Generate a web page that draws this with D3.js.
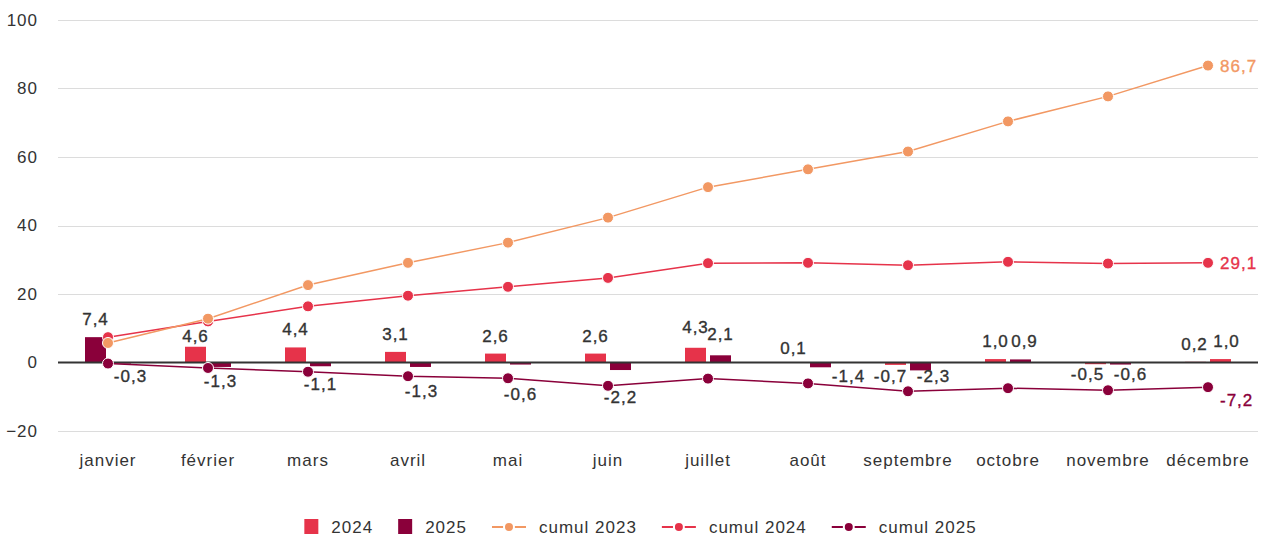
<!DOCTYPE html>
<html>
<head>
<meta charset="utf-8">
<script src="https://d3js.org/d3.v7.min.js"></script>
<style>
  body { margin: 0; background: #fff; }
  svg text { font-family: "Liberation Sans", Arial, Helvetica, sans-serif; letter-spacing: 1px; }
  .dlabel { stroke-width: 0.35px; }
</style>
</head>
<body>
<svg id="chart" width="1263" height="538"></svg>
<script>
// data
const months = ["janvier", "février", "mars", "avril", "mai", "juin", "juillet", "août", "septembre", "octobre", "novembre", "décembre"];
const values2024 = [7.4, 4.6, 4.4, 3.1, 2.6, 2.6, 4.3, 0.1, -0.7, 1.0, -0.5, 0.2];
const values2025 = [-0.3, -1.3, -1.1, -1.3, -0.6, -2.2, 2.1, -1.4, -2.3, 0.9, -0.6, 1.0];
const cumul2023 = [5.7, 12.8, 22.6, 29.1, 35.0, 42.3, 51.2, 56.4, 61.6, 70.4, 77.7, 86.7];
const cumul2024 = [7.4, 12.0, 16.4, 19.5, 22.1, 24.7, 29.0, 29.1, 28.4, 29.4, 28.9, 29.1];
const cumul2025 = [-0.3, -1.6, -2.7, -4.0, -4.6, -6.8, -4.7, -6.1, -8.4, -7.5, -8.1, -7.2];
const yTicks = [-20, 0, 20, 40, 60, 80, 100];

// colours
const RED = "#e6334a", DARK = "#8a003a", ORANGE = "#f29863";

// bars: one point in each series is drawn in the other colour in the original
const barSeries = [
  { key: "2024", values: values2024, color: RED, override: { 0: DARK } },
  { key: "2025", values: values2025, color: DARK, override: { 11: RED } }
];
const lineSeries = [
  { key: "cumul 2025", values: cumul2025, color: DARK },
  { key: "cumul 2024", values: cumul2024, color: RED },
  { key: "cumul 2023", values: cumul2023, color: ORANGE }
];

// small label nudges (dx, dy) to mimic the original label placement
const nudge = {
  "2024": [[0,0],[0,7],[0,0],[0,0],[0,0],[0,0],[0,-3],[-2,4],[-5,-3],[0,0],[-8,-4],[-1,0]],
  "2025": [[10,-2],[0,0],[0,4],[1,10],[0,15],[0,13],[0,-3],[28,-5],[13,-8],[4,0],[10,-5],[6,0]]
};
const endNudge = { "cumul 2023": 0, "cumul 2024": 0, "cumul 2025": 13 };

const svg = d3.select("#chart");
const plotLeft = 58, plotRight = 1258, plotTop = 20, plotBottom = 431;
const FS = 17;

const x = d3.scaleBand().domain(months).range([plotLeft, plotRight]);
const xs = d3.scaleBand().domain(["2024", "2025"]).range([27, 73]).paddingInner(0.16);
const y = d3.scaleLinear().domain([-20, 100]).range([plotBottom, plotTop]);
const fmt = v => d3.format(".1f")(v).replace(".", ",").replace("−", "-");

// grid
svg.append("g").selectAll("line").data(yTicks.filter(t => t !== 0))
  .join("line")
  .attr("x1", plotLeft).attr("x2", plotRight)
  .attr("y1", d => Math.round(y(d)) + 0.5).attr("y2", d => Math.round(y(d)) + 0.5)
  .attr("stroke", "#dcdcdc").attr("stroke-width", 1);

// y axis labels
const yAxis = svg.append("g").attr("transform", `translate(${plotLeft},0)`)
  .call(d3.axisLeft(y).tickValues(yTicks).tickSize(0).tickPadding(20));
yAxis.select(".domain").remove();
yAxis.selectAll("text").attr("fill", "#333")
  .style("font-size", FS + "px").style("font-family", '"Liberation Sans", Arial, sans-serif');

// x axis labels
const xAxis = svg.append("g").attr("transform", `translate(0,${plotBottom})`)
  .call(d3.axisBottom(x).tickSize(0).tickPadding(23));
xAxis.select(".domain").remove();
xAxis.selectAll("text").attr("fill", "#333")
  .style("font-size", FS + "px").style("font-family", '"Liberation Sans", Arial, sans-serif');

// bars
barSeries.forEach(s => {
  svg.append("g").selectAll("rect").data(s.values)
    .join("rect")
    .attr("x", (d, i) => x(months[i]) + xs(s.key))
    .attr("width", xs.bandwidth())
    .attr("y", d => y(Math.max(0, d)))
    .attr("height", d => Math.abs(y(d) - y(0)))
    .attr("fill", (d, i) => s.override[i] || s.color);
});

// zero line
svg.append("line")
  .attr("x1", plotLeft).attr("x2", plotRight)
  .attr("y1", y(0)).attr("y2", y(0))
  .attr("stroke", "#333").attr("stroke-width", 2);

// cumulative lines
const line = d3.line().x((d, i) => x(months[i]) + x.bandwidth() / 2).y(d => y(d));
lineSeries.forEach(s => {
  const g = svg.append("g");
  g.append("path").datum(s.values)
    .attr("d", line)
    .attr("fill", "none").attr("stroke", s.color).attr("stroke-width", 1.5);
  g.selectAll("circle").data(s.values)
    .join("circle")
    .attr("cx", (d, i) => x(months[i]) + x.bandwidth() / 2)
    .attr("cy", d => y(d))
    .attr("r", 5.5)
    .attr("fill", s.color).attr("stroke", "#fff").attr("stroke-width", 1);
  const last = s.values.length - 1;
  g.append("text")
    .attr("class", "dlabel")
    .attr("x", x(months[last]) + x.bandwidth() / 2 + 12)
    .attr("y", y(s.values[last]) + endNudge[s.key])
    .attr("dy", "0.35em")
    .style("font-size", FS + "px")
    .attr("fill", s.color).attr("stroke", s.color)
    .text(fmt(s.values[last]));
});

// bar labels
barSeries.forEach(s => {
  svg.append("g").selectAll("text").data(s.values)
    .join("text")
    .attr("class", "dlabel")
    .attr("x", (d, i) => x(months[i]) + xs(s.key) + xs.bandwidth() / 2 + nudge[s.key][i][0])
    .attr("y", (d, i) => (d >= 0 ? y(d) - 12 : y(d) + 20) + nudge[s.key][i][1])
    .attr("text-anchor", "middle")
    .style("font-size", FS + "px")
    .attr("fill", "#333").attr("stroke", "#333")
    .text(d => fmt(d));
});

// legend
const legendItems = [
  { label: "2024", color: RED, type: "bar" },
  { label: "2025", color: DARK, type: "bar" },
  { label: "cumul 2023", color: ORANGE, type: "line" },
  { label: "cumul 2024", color: RED, type: "line" },
  { label: "cumul 2025", color: DARK, type: "line" }
];
const legend = svg.append("g");
let lx = 0;
const ly = 527;
legendItems.forEach(it => {
  const g = legend.append("g").attr("transform", `translate(${lx},0)`);
  let sw;
  if (it.type === "bar") {
    g.append("rect").attr("x", 0).attr("y", ly - 8).attr("width", 14).attr("height", 15).attr("fill", it.color);
    sw = 14;
  } else {
    g.append("line").attr("x1", 0).attr("x2", 34).attr("y1", ly).attr("y2", ly)
      .attr("stroke", it.color).attr("stroke-width", 2);
    g.append("circle").attr("cx", 17).attr("cy", ly).attr("r", 5)
      .attr("fill", it.color).attr("stroke", "#fff").attr("stroke-width", 2);
    sw = 34;
  }
  const t = g.append("text").attr("x", sw + 13).attr("y", ly).attr("dy", "0.35em")
    .style("font-size", FS + "px").attr("fill", "#333").text(it.label);
  lx += sw + 13 + t.node().getComputedTextLength() + 25;
});
const legendWidth = lx - 25;
legend.attr("transform", `translate(${(1263 - legendWidth) / 2 + 9},0)`);
</script>
</body>
</html>
